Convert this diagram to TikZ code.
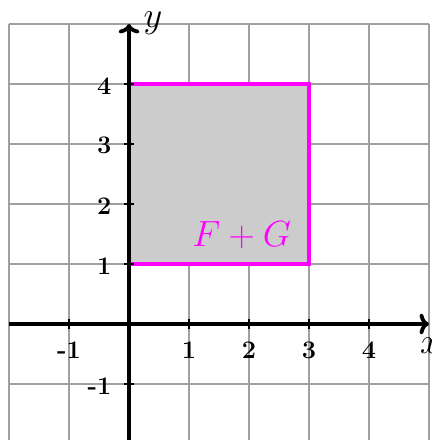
\documentclass[tikz,border=0pt]{standalone}
\usetikzlibrary{arrows.meta}
\definecolor{gridgray}{HTML}{A0A0A0}
\definecolor{mag}{HTML}{FF00FF}
\tikzset{
  gridline/.style={draw=gridgray, line width=0.7pt},
  axisline/.style={draw=black, line width=1.8pt, -{To[length=4.5pt,width=10pt]}},
  tickmark/.style={draw=black, line width=1.2pt},
  ticklabel/.style={font=\large\bfseries, inner sep=1pt},
  axislabel/.style={font=\LARGE, inner sep=0pt},
  region/.style={fill=black!20, draw=mag, line width=1.8pt},
  regionlabel/.style={font=\LARGE, text=mag, inner sep=0pt}
}
\begin{document}
\begin{tikzpicture}
\useasboundingbox (-2.15,-1.9333) rectangle (5.0333,5.4);
\draw[gridline] (-2,-2) grid (5,5);
\draw[region] (0,1) rectangle (3,4);
\coordinate (xs) at (-2,0);
\coordinate (xe) at (5,0);
\coordinate (ys) at (0,-2);
\coordinate (ye) at (0,5);
\draw[axisline] (xs) -- (xe);
\draw[axisline] (ys) -- (ye);
\foreach \i in {-1,1,2,3,4} {
  \draw[tickmark] (\i,-0.09) -- (\i,0.09);
  \node[ticklabel] (xl\i) at (\i,-0.44) {\i};
}
\foreach \i in {-1,1,2,3,4} {
  \draw[tickmark] (-0.09,\i) -- (0.09,\i);
  \node[ticklabel, anchor=east] (yl\i) at (-0.25,\i-0.03) {\i};
}
\node[axislabel] (xlab) at (5.02,-0.36) {$x$};
\node[axislabel] (ylab) at (0.4,5.02) {$y$};
\node[regionlabel] (fg) at (1.88,1.48) {$F+G$};
\end{tikzpicture}
\end{document}
